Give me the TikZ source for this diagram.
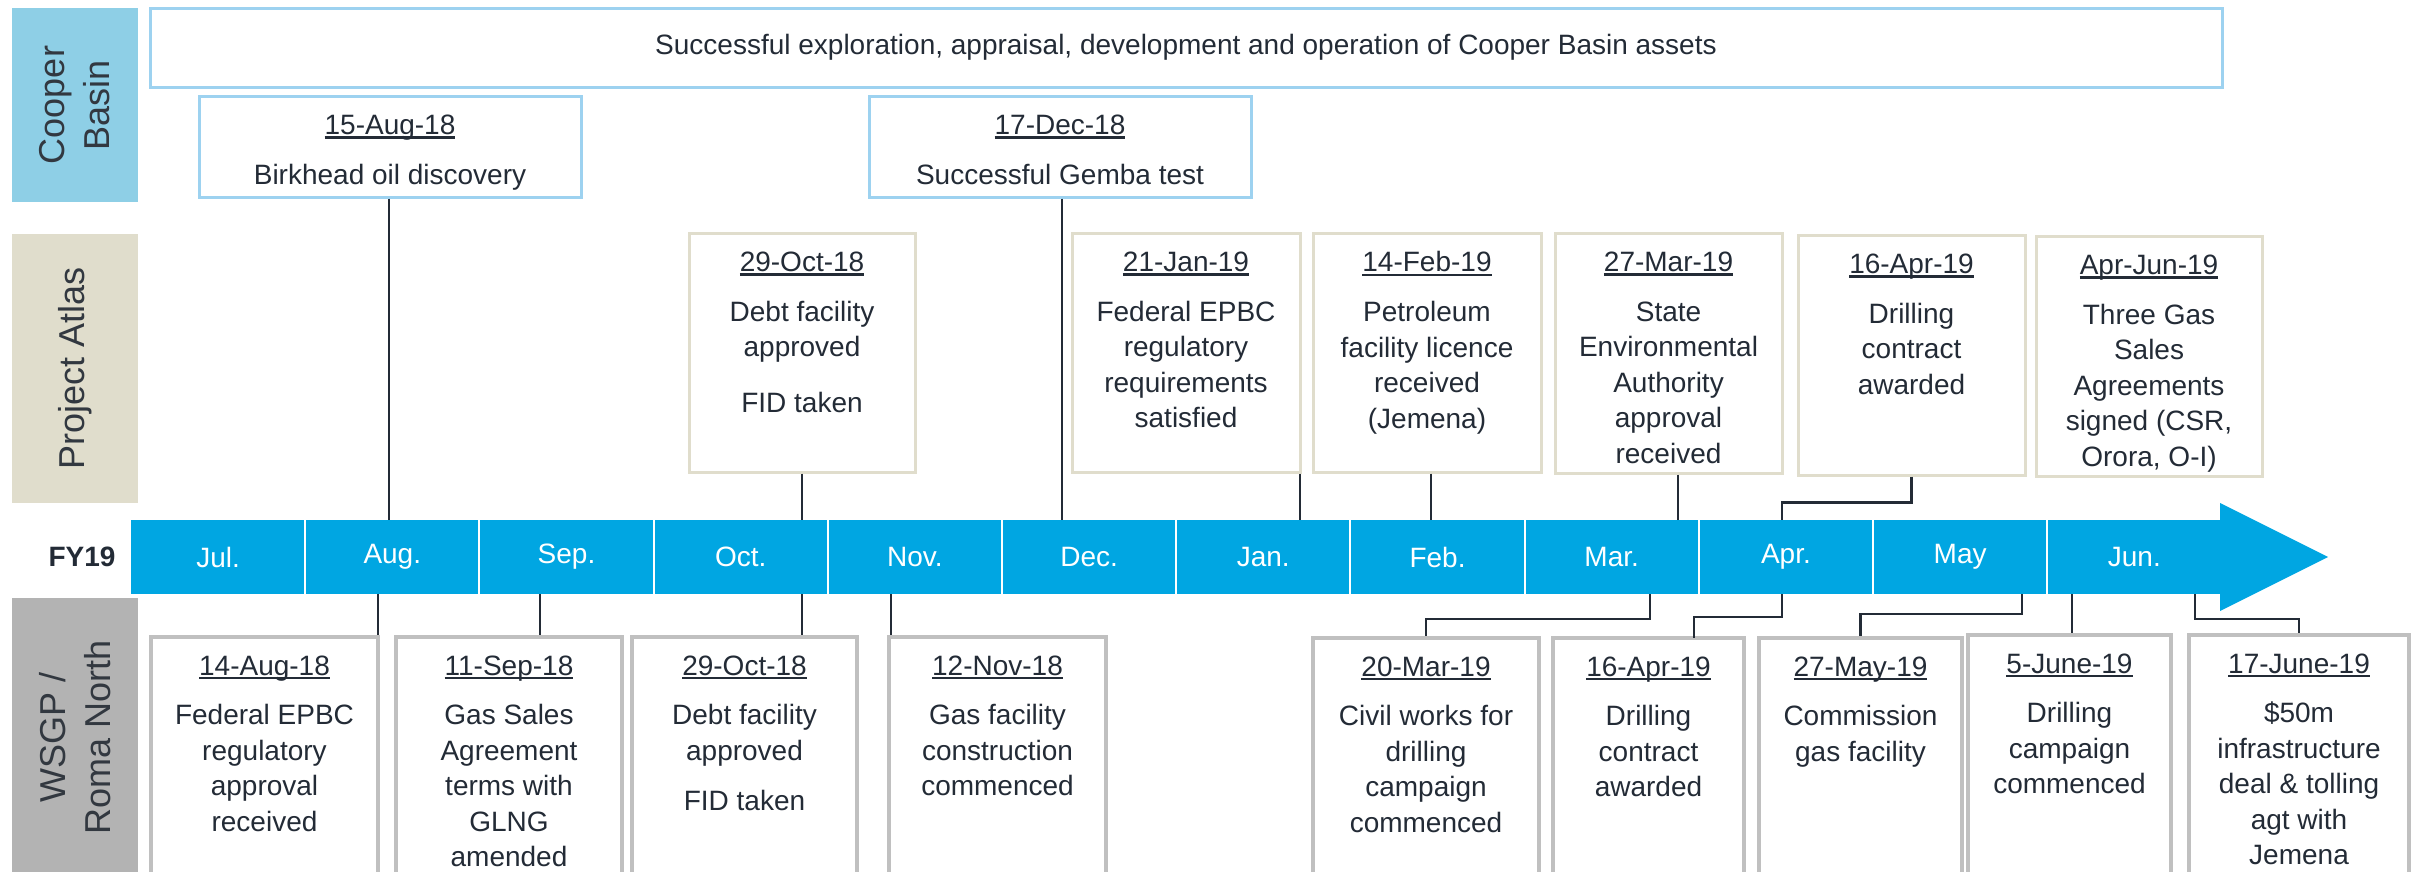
\documentclass[tikz,border=0pt]{standalone}
\usepackage{fontspec}
\setmainfont{Liberation Sans}
\usetikzlibrary{fit}
\definecolor{barblue}{RGB}{0,166,226}
\definecolor{cbfill}{RGB}{142,207,230}
\definecolor{pafill}{RGB}{224,221,204}
\definecolor{wsfill}{RGB}{179,179,179}
\definecolor{cbline}{RGB}{157,210,240}
\definecolor{paline}{RGB}{224,221,204}
\definecolor{wsline}{RGB}{192,192,192}
\definecolor{ink}{RGB}{35,43,54}
\definecolor{labink}{RGB}{50,56,64}
\newsavebox\dulbox
\newcommand\dul[1]{\sbox\dulbox{#1}\rlap{\rule[-4.3pt]{\wd\dulbox}{2.6pt}}\usebox\dulbox}
\tikzset{
  evtext/.style={font=\fontsize{28}{35.5}\selectfont, text=ink, align=center, inner sep=0pt},
  cbbox/.style={draw=cbline, line width=3pt, fill=white, inner sep=0pt},
  pabox/.style={draw=paline, line width=3pt, fill=white, inner sep=0pt},
  wsbox/.style={draw=wsline, line width=3.2pt, fill=white, inner sep=0pt},
  labbox/.style={inner sep=0pt},
  labtext/.style={font=\fontsize{36}{45}\selectfont, text=labink, align=center, rotate=90, inner sep=0pt},
  monthlab/.style={font=\fontsize{28}{34}\selectfont, text=white, inner sep=0pt},
  conn/.style={draw=ink, line width=2.5pt},
}
\begin{document}
\begin{tikzpicture}[x=1pt,y=-1pt]
\useasboundingbox (0,0) rectangle (2419,871);
\clip (0,0) rectangle (2419,871);

% side labels
\node[labbox, fill=cbfill, fit={(12,8) (138,202)}] (lcb) {};
\node[labtext] (lcbt) at (lcb.center) {Cooper\\Basin};
\node[labbox, fill=pafill, fit={(12,234) (138,503)}] (lpa) {};
\node[labtext] (lpat) at (lpa.center) {Project Atlas};
\node[labbox, fill=wsfill, fit={(12,598) (138,876)}] (lws) {};
\node[labtext] (lwst) at (lws.center) {WSGP /\\Roma North};

% timeline bar
\node[font=\bfseries\fontsize{28}{34}\selectfont, text=ink, inner sep=0pt] (fy) at (82,557) {FY19};
\node[fill=barblue, inner sep=0pt, fit={(131,520) (2222,594)}] (bar) {};
\fill[barblue] (2220,503) -- (2328,557) -- (2220,611) -- cycle;
\foreach \i in {1,...,11} \draw[white, line width=2pt] ({131+174.2*\i},520) -- ({131+174.2*\i},594);
\foreach \m [count=\i from 0] in {Jul.,Aug.,Sep.,Oct.,Nov.,Dec.,Jan.,Feb.,Mar.,Apr.,May,Jun.}
  \node[monthlab] (mon\i) at ({131+87.1+174.2*\i},557) {\m};

% Cooper Basin
\node[cbbox, fit={(150,8) (2222,87)}] (cb0) {};
\node[evtext] (cb0t) at (cb0.center) {Successful exploration, appraisal, development and operation of Cooper Basin assets};
\node[cbbox, fit={(199,96) (581,197)}] (cb1) {};
\node[evtext, anchor=north] (cb1t) at ([yshift=-20pt]cb1.north) {\dul{15-Aug-18}\\[14.5pt]Birkhead oil discovery};
\node[cbbox, fit={(869,96) (1251,197)}] (cb2) {};
\node[evtext, anchor=north] (cb2t) at ([yshift=-20pt]cb2.north) {\dul{17-Dec-18}\\[14.5pt]Successful Gemba test};

% Project Atlas
\node[pabox, fit={(689,233) (915,472)}] (pa1) {};
\node[evtext, anchor=north] (pa1t) at ([yshift=-20pt]pa1.north) {\dul{29-Oct-18}\\[14.5pt]Debt facility\\approved\\[20pt]FID taken};
\node[pabox, fit={(1072,233) (1300,472)}] (pa2) {};
\node[evtext, anchor=north] (pa2t) at ([yshift=-20pt]pa2.north) {\dul{21-Jan-19}\\[14.5pt]Federal EPBC\\regulatory\\requirements\\satisfied};
\node[pabox, fit={(1313,233) (1541,472)}] (pa3) {};
\node[evtext, anchor=north] (pa3t) at ([yshift=-20pt]pa3.north) {\dul{14-Feb-19}\\[14.5pt]Petroleum\\facility licence\\received\\(Jemena)};
\node[pabox, fit={(1555,233) (1782,473)}] (pa4) {};
\node[evtext, anchor=north] (pa4t) at ([yshift=-20pt]pa4.north) {\dul{27-Mar-19}\\[14.5pt]State\\Environmental\\Authority\\approval\\received};
\node[pabox, fit={(1798,235) (2025,475)}] (pa5) {};
\node[evtext, anchor=north] (pa5t) at ([yshift=-20pt]pa5.north) {\dul{16-Apr-19}\\[14.5pt]Drilling\\contract\\awarded};
\node[pabox, fit={(2036,236) (2262,476)}] (pa6) {};
\node[evtext, anchor=north] (pa6t) at ([yshift=-20pt]pa6.north) {\dul{Apr-Jun-19}\\[14.5pt]Three Gas\\Sales\\Agreements\\signed (CSR,\\Orora, O-I)};

% WSGP / Roma North
\node[wsbox, fit={(151,637) (378,884)}] (wb1) {};
\node[evtext, anchor=north] (wb1t) at ([yshift=-20pt]wb1.north) {\dul{14-Aug-18}\\[14pt]Federal EPBC\\regulatory\\approval\\received};
\node[wsbox, fit={(396,637) (622,884)}] (wb2) {};
\node[evtext, anchor=north] (wb2t) at ([yshift=-20pt]wb2.north) {\dul{11-Sep-18}\\[14pt]Gas Sales\\Agreement\\terms with\\GLNG\\amended};
\node[wsbox, fit={(632,637) (857,884)}] (wb3) {};
\node[evtext, anchor=north] (wb3t) at ([yshift=-20pt]wb3.north) {\dul{29-Oct-18}\\[14pt]Debt facility\\approved\\[15pt]FID taken};
\node[wsbox, fit={(889,637) (1106,884)}] (wb4) {};
\node[evtext, anchor=north] (wb4t) at ([yshift=-20pt]wb4.north) {\dul{12-Nov-18}\\[14pt]Gas facility\\construction\\commenced};
\node[wsbox, fit={(1313,638) (1539,884)}] (wb5) {};
\node[evtext, anchor=north] (wb5t) at ([yshift=-20pt]wb5.north) {\dul{20-Mar-19}\\[14pt]Civil works for\\drilling\\campaign\\commenced};
\node[wsbox, fit={(1553,638) (1744,884)}] (wb6) {};
\node[evtext, anchor=north] (wb6t) at ([yshift=-20pt]wb6.north) {\dul{16-Apr-19}\\[14pt]Drilling\\contract\\awarded};
\node[wsbox, fit={(1759,638) (1962,884)}] (wb7) {};
\node[evtext, anchor=north] (wb7t) at ([yshift=-20pt]wb7.north) {\dul{27-May-19}\\[14pt]Commission\\gas facility};
\node[wsbox, fit={(1968,635) (2171,884)}] (wb8) {};
\node[evtext, anchor=north] (wb8t) at ([yshift=-20pt]wb8.north) {\dul{5-June-19}\\[14pt]Drilling\\campaign\\commenced};
\node[wsbox, fit={(2189,635) (2409,884)}] (wb9) {};
\node[evtext, anchor=north] (wb9t) at ([yshift=-20pt]wb9.north) {\dul{17-June-19}\\[14pt]\$50m\\infrastructure\\deal \& tolling\\agt with\\Jemena};

% date points on the bar
\coordinate (tcb1) at (389,520);
\coordinate (tcb2) at (1062,520);
\coordinate (tpa1) at (802,520);
\coordinate (tpa2) at (1300,520);
\coordinate (tpa3) at (1431,520);
\coordinate (tpa4) at (1678,520);
\coordinate (tpa5) at (1782,520);
\coordinate (bwb1) at (378,594);
\coordinate (bwb2) at (540,594);
\coordinate (bwb3) at (802,594);
\coordinate (bwb4) at (891,594);
\coordinate (bwb5) at (1650,594);
\coordinate (bwb6) at (1782,594);
\coordinate (bwb7) at (2022,594);
\coordinate (bwb8) at (2072,594);
\coordinate (bwb9) at (2195,594);
\coordinate (lwb6) at (1694,638);

% connectors above the bar
\draw[conn] (tcb1 |- cb1.south) -- (tcb1);
\draw[conn] (tcb2 |- cb2.south) -- (tcb2);
\draw[conn] (tpa1 |- pa1.south) -- (tpa1);
\draw[conn] (tpa2 |- pa2.south) -- (tpa2);
\draw[conn] (tpa3 |- pa3.south) -- (tpa3);
\draw[conn] (tpa4 |- pa4.south) -- (tpa4);
\draw[conn] (pa5.south) -- ++(0,26) -| (tpa5);

% connectors below the bar
\draw[conn] (bwb1) -- (bwb1 |- wb1.north);
\draw[conn] (bwb2) -- (bwb2 |- wb2.north);
\draw[conn] (bwb3) -- (bwb3 |- wb3.north);
\draw[conn] (bwb4) -- (bwb4 |- wb4.north);
\draw[conn] (bwb5) -- ++(0,25) -| (wb5.north);
\draw[conn] (bwb6) -- ++(0,23) -| (lwb6);
\draw[conn] (bwb7) -- ++(0,20) -| (wb7.north);
\draw[conn] (bwb8) -- (bwb8 |- wb8.north);
\draw[conn] (bwb9) -- ++(0,25) -| (wb9.north);
\end{tikzpicture}
\end{document}
